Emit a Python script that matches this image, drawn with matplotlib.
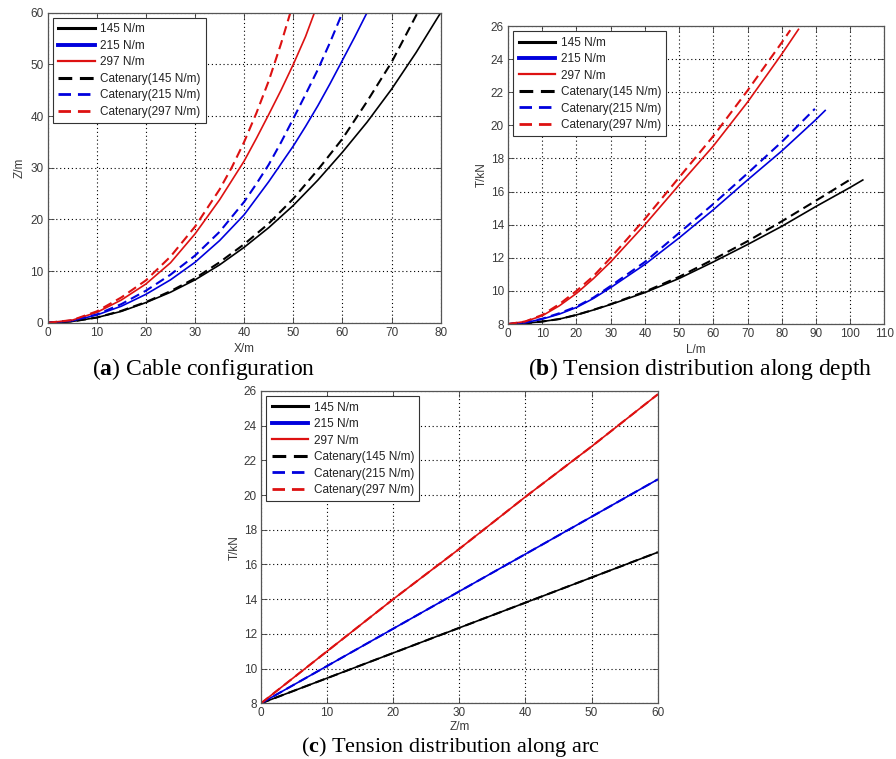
import matplotlib
matplotlib.use("Agg")
import matplotlib.pyplot as plt

plt.rcParams['font.family'] = ['Liberation Sans', 'DejaVu Sans']
plt.rcParams['mathtext.fontset'] = 'custom'
plt.rcParams['mathtext.rm'] = 'Liberation Serif'
plt.rcParams['mathtext.bf'] = 'Liberation Serif:bold'

labels = ['145 N/m', '215 N/m', '297 N/m',
          'Catenary(145 N/m)', 'Catenary(215 N/m)', 'Catenary(297 N/m)']
colors = ['black', '#0000dd', '#dd1111']

# ---- Panel (a): cable configuration, Z vs X ----
a_x_145 = [0, 5, 10, 15, 20, 25, 30, 35, 40, 45, 50, 55, 60, 65, 70, 75, 80]
a_z_145 = [0, 0.25, 1.0, 2.2, 3.9, 5.9, 8.3, 11.2, 14.6, 18.4, 22.7, 27.6, 33.0, 38.8, 45.2, 52.3, 60.0]
a_x_215 = [0, 5, 10, 15, 20, 25, 30, 35, 40, 45, 50, 52.5, 55, 57.5, 60, 62.5, 65]
a_z_215 = [0, 0.35, 1.5, 3.2, 5.5, 8.3, 11.7, 15.9, 20.9, 27.3, 34.2, 38.0, 42.0, 46.3, 50.8, 55.3, 60.0]
a_x_297 = [0, 5, 10, 15, 20, 25, 30, 35, 40, 42.5, 45, 47.5, 50, 52.5, 54.3]
a_z_297 = [0, 0.5, 2.0, 4.4, 7.5, 11.6, 17.2, 23.8, 31.3, 35.7, 40.3, 45.0, 50.0, 55.4, 60.0]
a_xc_145 = [0, 5, 10, 15, 20, 25, 30, 35, 40, 45, 50, 55, 60, 65, 70, 75.3]
a_zc_145 = [0, 0.25, 1.0, 2.3, 4.0, 6.1, 8.6, 11.7, 15.2, 19.2, 24.0, 29.6, 35.6, 42.8, 50.4, 60.0]
a_xc_215 = [0, 5, 10, 15, 20, 25, 30, 35, 40, 42.5, 45, 47.5, 50, 52.5, 55, 57.5, 60]
a_zc_215 = [0, 0.4, 1.6, 3.6, 6.2, 9.3, 13.0, 17.6, 23.4, 26.9, 30.6, 34.9, 39.5, 44.2, 49.0, 54.3, 60.0]
a_xc_297 = [0, 5, 10, 15, 20, 25, 30, 35, 37.5, 40, 42.5, 45, 47.5, 49.4]
a_zc_297 = [0, 0.5, 2.2, 4.9, 8.2, 12.8, 18.6, 25.8, 30.1, 35.0, 40.6, 46.8, 54.0, 60.0]

# ---- Panel (b): tension along depth, T vs L ----
b_l_145 = [0, 5, 10, 15, 20, 25, 30, 40, 50, 60, 70, 80, 90, 100, 103.7]
b_t_145 = [8.0, 8.04, 8.15, 8.3, 8.55, 8.85, 9.18, 9.9, 10.75, 11.75, 12.8, 13.9, 15.1, 16.25, 16.7]
b_l_215 = [0, 5, 10, 15, 20, 25, 30, 40, 50, 60, 70, 80, 90, 92.7]
b_t_215 = [8.0, 8.08, 8.3, 8.6, 9.0, 9.55, 10.2, 11.6, 13.2, 14.9, 16.7, 18.45, 20.35, 20.9]
b_l_297 = [0, 5, 10, 15, 20, 25, 30, 40, 50, 60, 70, 80, 84.9]
b_t_297 = [8.0, 8.15, 8.5, 9.1, 9.85, 10.75, 11.75, 14.0, 16.4, 18.75, 21.4, 24.3, 25.8]
b_lc_145 = [0, 5, 10, 15, 20, 25, 30, 40, 50, 60, 70, 80, 90, 99.8]
b_tc_145 = [8.0, 8.04, 8.15, 8.3, 8.55, 8.86, 9.2, 9.95, 10.85, 11.9, 13.0, 14.2, 15.45, 16.7]
b_lc_215 = [0, 5, 10, 15, 20, 25, 30, 40, 50, 60, 70, 80, 89.7]
b_tc_215 = [8.0, 8.08, 8.32, 8.65, 9.05, 9.6, 10.3, 11.75, 13.5, 15.25, 17.1, 19.0, 21.0]
b_lc_297 = [0, 5, 10, 15, 20, 25, 30, 40, 50, 60, 70, 80, 82.5]
b_tc_297 = [8.0, 8.15, 8.55, 9.2, 10.0, 10.9, 12.0, 14.35, 16.85, 19.35, 22.1, 25.0, 25.75]

# ---- Panel (c): tension along arc, T vs Z ----
c_z = [0, 10, 20, 30, 40, 50, 60]
c_t_145 = [8.0, 9.45, 10.9, 12.35, 13.8, 15.25, 16.7]
c_t_215 = [8.0, 10.15, 12.3, 14.45, 16.6, 18.75, 20.9]
c_t_297 = [8.0, 11.0, 14.0, 16.9, 19.9, 22.8, 25.8]
c_tc_145 = [8.0, 9.45, 10.9, 12.35, 13.8, 15.25, 16.7]
c_tc_215 = [8.0, 10.15, 12.3, 14.45, 16.6, 18.75, 20.9]
c_tc_297 = [8.0, 11.0, 14.0, 16.9, 19.9, 22.8, 25.8]

fig = plt.figure(figsize=(8.96, 7.59), dpi=100)
axA = fig.add_axes([0.0532, 0.5748, 0.4386, 0.4084])
axB = fig.add_axes([0.567, 0.5731, 0.42, 0.3926])
axC = fig.add_axes([0.2913, 0.0734, 0.4427, 0.4115])

tick_col = '#3a3a3a'
dash = (4.5, 2.5)


def style(ax, xlim, ylim, xticks, yticks, xlabel, ylabel, pad, xpad=3):
    ax.set_xlim(*xlim)
    ax.set_ylim(*ylim)
    ax.set_xticks(xticks)
    ax.set_yticks(yticks)
    ax.grid(True, linestyle=(0, (1, 2.5)), color='black', linewidth=0.8)
    ax.tick_params(direction='in', top=True, right=True, labelsize=8.5,
                   colors=tick_col, length=4, width=0.6, pad=3)
    for s in ax.spines.values():
        s.set_color('#555555')
        s.set_linewidth(0.9)
    ax.set_xlabel(xlabel, fontsize=8.5, color=tick_col, labelpad=xpad)
    ax.set_ylabel(ylabel, fontsize=8.5, color=tick_col, labelpad=pad)


def draw(ax, solids, dashed):
    hs = []
    for (x, y), c in zip(solids, colors):
        h, = ax.plot(x, y, color=c, lw=1.2)
        hs.append(h)
    for (x, y), c in zip(dashed, colors):
        h, = ax.plot(x, y, color=c, lw=1.5, linestyle=(0, dash))
        hs.append(h)
    leg = ax.legend(hs, labels, loc='upper left', fontsize=8.5, frameon=True,
                    fancybox=False, edgecolor='#333333', framealpha=1,
                    handlelength=3.1, labelspacing=0.38, borderpad=0.45,
                    handletextpad=0.45, borderaxespad=0.45)
    leg.get_frame().set_linewidth(0.8)
    lw_h = [2.2, 2.8, 1.6, 2.2, 2.0, 2.0]
    for ln, w in zip(leg.get_lines(), lw_h):
        ln.set_linewidth(w)
    for t in leg.get_texts():
        t.set_color('#222222')


draw(axA,
     [(a_x_145, a_z_145), (a_x_215, a_z_215), (a_x_297, a_z_297)],
     [(a_xc_145, a_zc_145), (a_xc_215, a_zc_215), (a_xc_297, a_zc_297)])
style(axA, (0, 80), (0, 60), range(0, 81, 10), range(0, 61, 10), 'X/m', 'Z/m', 3)

draw(axB,
     [(b_l_145, b_t_145), (b_l_215, b_t_215), (b_l_297, b_t_297)],
     [(b_lc_145, b_tc_145), (b_lc_215, b_tc_215), (b_lc_297, b_tc_297)])
style(axB, (0, 110), (8, 26), range(0, 111, 10), range(8, 27, 2), 'L/m', 'T/kN', 2)

draw(axC,
     [(c_z, c_t_145), (c_z, c_t_215), (c_z, c_t_297)],
     [(c_z, c_tc_145), (c_z, c_tc_215), (c_z, c_tc_297)])
style(axC, (0, 60), (8, 26), range(0, 61, 10), range(8, 27, 2), 'Z/m', 'T/kN', 2, xpad=1)

cap_kw = dict(fontsize=17, family='Liberation Serif', ha='center', va='center', color='black')
fig.text(204 / 896, 1 - 369 / 759, r'($\mathbf{a}$) Cable configuration', **cap_kw)
fig.text(700 / 896, 1 - 369 / 759, r'($\mathbf{b}$) Tension distribution along depth', **cap_kw)
fig.text(451 / 896, 1 - 747 / 759, r'($\mathbf{c}$) Tension distribution along arc',
         **dict(cap_kw, fontsize=16))

fig.savefig('out.png', dpi=100)
